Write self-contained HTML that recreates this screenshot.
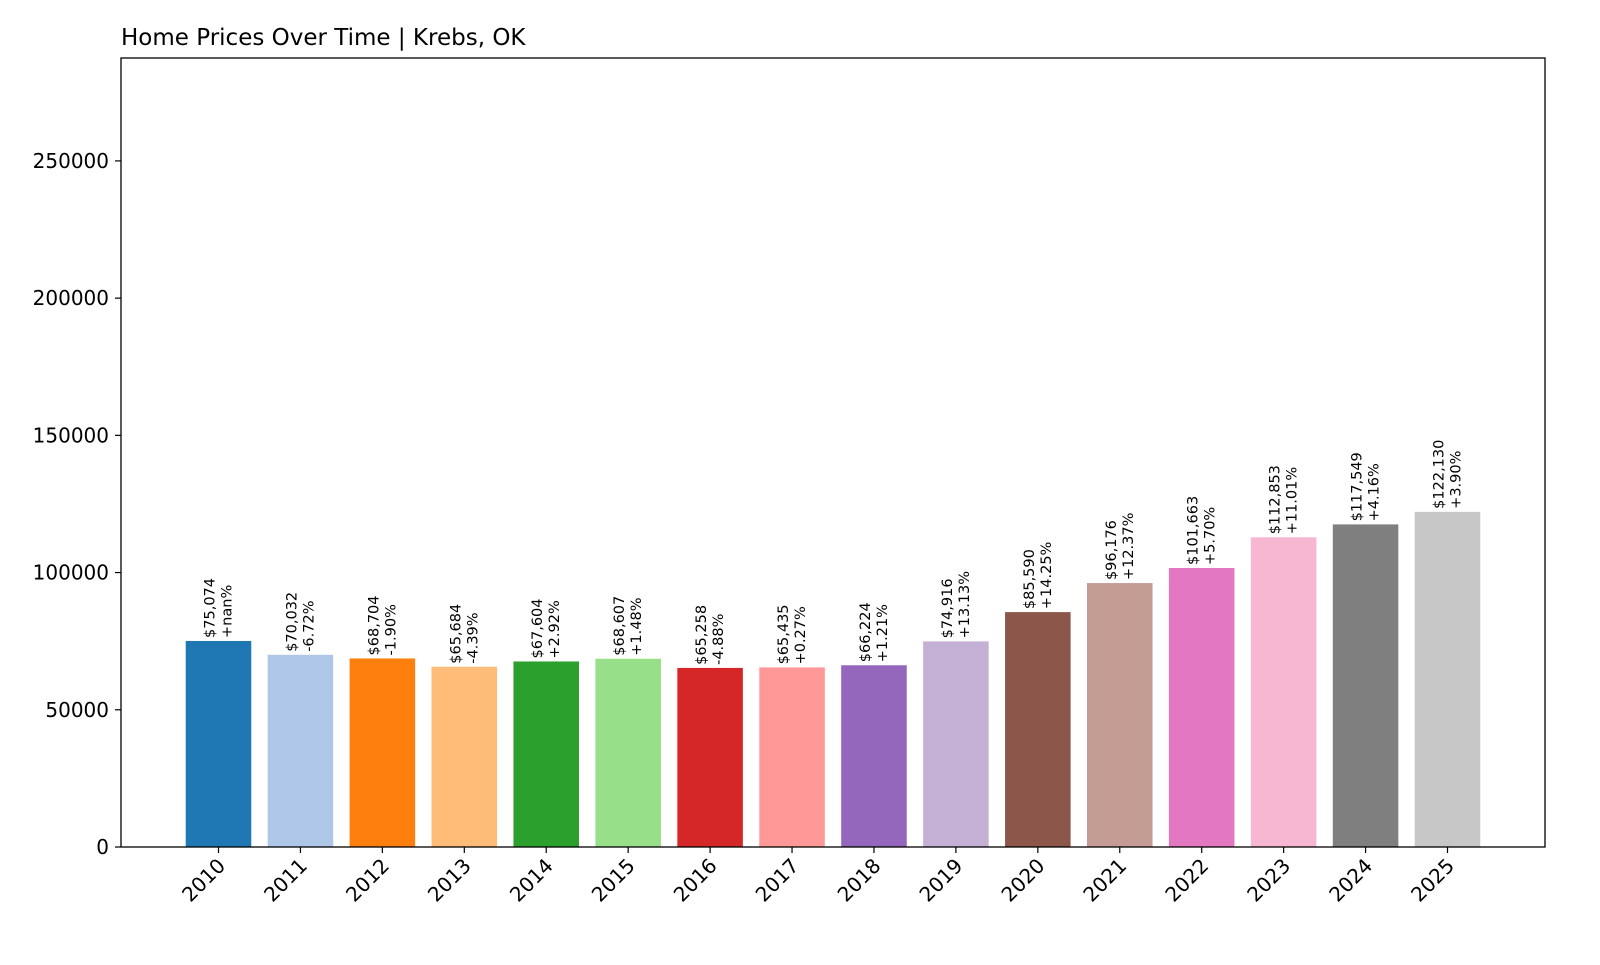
<!DOCTYPE html>
<html><head><meta charset="utf-8"><style>
body{margin:0;background:#fff;}
svg text{font-family:"DejaVu Sans","Liberation Sans",sans-serif;}
</style></head><body>
<svg id="chart" width="1600" height="960" xmlns="http://www.w3.org/2000/svg">
<rect width="1600" height="960" fill="#fff"/>
<text x="121" y="45" font-size="23" fill="#000">Home Prices Over Time | Krebs, OK</text>
<g id="bars"></g>
<g id="axes"></g>
</svg>
<script>
const years=["2010","2011","2012","2013","2014","2015","2016","2017","2018","2019","2020","2021","2022","2023","2024","2025"];
const values=[75074,70032,68704,65684,67604,68607,65258,65435,66224,74916,85590,96176,101663,112853,117549,122130];
const changes=["+nan%","-6.72%","-1.90%","-4.39%","+2.92%","+1.48%","-4.88%","+0.27%","+1.21%","+13.13%","+14.25%","+12.37%","+5.70%","+11.01%","+4.16%","+3.90%"];
const yTicks=[0,50000,100000,150000,200000,250000];
const colors=["#1f77b4","#aec7e8","#ff7f0e","#ffbb78","#2ca02c","#98df8a","#d62728","#ff9896","#9467bd","#c5b0d5","#8c564b","#c49c94","#e377c2","#f7b6d2","#7f7f7f","#c7c7c7"];
const L=121,R=1545,T=58,B=847,yMax=287500;
const n=years.length;
const xMin=-0.4-0.05*(n-1+0.8),xMax=n-1+0.4+0.05*(n-1+0.8);
const xs=i=>L+(i-xMin)/(xMax-xMin)*(R-L);
const ys=v=>B-v/yMax*(B-T);
const NS="http://www.w3.org/2000/svg";
function mk(t,a,p){const e=document.createElementNS(NS,t);for(const k in a)e.setAttribute(k,a[k]);p.appendChild(e);return e;}
const bars=document.getElementById('bars'),axes=document.getElementById('axes');
const bw=(xs(0.8)-xs(0));
values.forEach((v,i)=>{
  const r=mk('rect',{x:xs(i)-bw/2,y:ys(v),width:bw,height:B-ys(v),fill:colors[i]},bars);
  
  
  const cx=xs(i),ty=ys(v)-3;
  const t=mk('text',{transform:`translate(${cx},${ty}) rotate(-90)`,'font-size':'14.5',fill:'#000'},bars);
  
  
  mk('tspan',{x:0,y:-4},t).textContent='$'+v.toLocaleString('en-US');
  mk('tspan',{x:0,y:13},t).textContent=changes[i];
});
const frame=mk('rect',{x:L,y:T,width:R-L,height:B-T,fill:'none',stroke:'#000','stroke-width':1.3},axes);


yTicks.forEach(v=>{
  const y=ys(v);
  mk('line',{x1:L-6,x2:L,y1:y,y2:y,stroke:'#000','stroke-width':1.2},axes);
  const t=mk('text',{x:L-12,y:y+7,'text-anchor':'end','font-size':'20',fill:'#000'},axes);
  
  
  t.textContent=v;
});
years.forEach((yr,i)=>{
  const x=xs(i);
  mk('line',{x1:x,x2:x,y1:B,y2:B+6,stroke:'#000','stroke-width':1.2},axes);
  const t=mk('text',{transform:`translate(${x+8},${B+20}) rotate(-45)`,'text-anchor':'end','font-size':'20',fill:'#000'},axes);
  
  
  t.textContent=yr;
});
</script>
</body></html>
